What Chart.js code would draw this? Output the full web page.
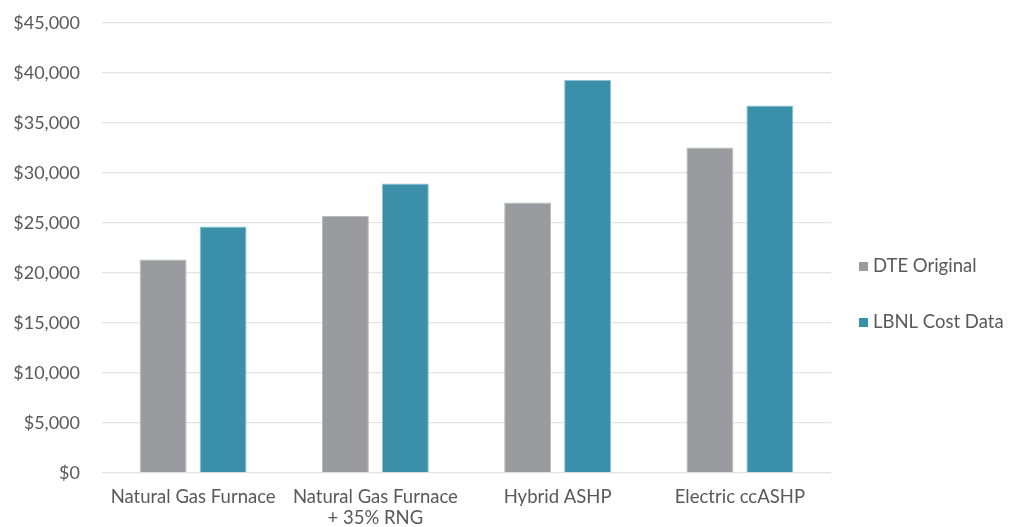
<!DOCTYPE html>
<html>
<head>
<meta charset="utf-8">
<script src="https://cdn.jsdelivr.net/npm/chart.js@4/dist/chart.umd.min.js"></script>
<style>
  html, body { margin: 0; padding: 0; background: #ffffff; }
  #wrap { width: 1018px; height: 527px; }
</style>
</head>
<body>
<div id="wrap"><canvas id="c" width="1018" height="527"></canvas></div>
<script>
// Heating system cost comparison: original utility estimates vs. LBNL cost data
const categories = [
  'Natural Gas Furnace',
  ['Natural Gas Furnace', '+ 35% RNG'],
  'Hybrid ASHP',
  'Electric ccASHP'
];
const seriesNames = ['DTE Original', 'LBNL Cost Data'];
const dteOriginal = [21350, 25700, 27050, 32550];
const lbnlCostData = [24650, 28950, 39300, 36750];
const yTicks = [0, 5000, 10000, 15000, 20000, 25000, 30000, 35000, 40000, 45000];

const GRAY = '#9a9b9f';
const TEAL = '#3a90a8';
const TEXT = '#595959';
const FONT = 'Lato, "Open Sans", sans-serif';

// Legend drawn at the right of the plot area
const sideLegend = {
  id: 'sideLegend',
  afterDraw(chart) {
    const ctx = chart.ctx;
    const items = chart.data.datasets.map(d => ({ label: d.label, color: d.backgroundColor }));
    const x = 859, ys = [266, 322];
    ctx.save();
    ctx.font = '18.5px ' + FONT;
    ctx.textBaseline = 'middle';
    ctx.textAlign = 'left';
    items.forEach((it, i) => {
      ctx.fillStyle = it.color;
      ctx.fillRect(x, ys[i] - 4, 9, 9);
      ctx.fillStyle = TEXT;
      ctx.fillText(it.label, x + 14, ys[i]);
    });
    ctx.restore();
  }
};

new Chart(document.getElementById('c'), {
  type: 'bar',
  data: {
    labels: categories,
    datasets: [
      { label: seriesNames[0], data: dteOriginal, backgroundColor: GRAY, borderColor: '#b9babd', borderWidth: 1 },
      { label: seriesNames[1], data: lbnlCostData, backgroundColor: TEAL, borderColor: '#8fc3d2', borderWidth: 1 }
    ]
  },
  options: {
    responsive: false,
    animation: false,
    layout: { padding: { top: 23, right: 187, left: 0, bottom: 0 } },
    datasets: {
      bar: { categoryPercentage: 0.658, barPercentage: 0.783 }
    },
    plugins: {
      legend: { display: false },
      tooltip: { enabled: false }
    },
    scales: {
      x: {
        grid: { display: false, drawTicks: false },
        border: { display: false },
        ticks: {
          color: TEXT,
          font: { family: FONT, size: 18.5, lineHeight: 1.15 },
          padding: 13,
          maxRotation: 0,
          autoSkip: false
        },
        afterFit(scale) { scale.height = 54; }
      },
      y: {
        min: 0,
        max: 45000,
        afterBuildTicks(scale) { scale.ticks = yTicks.map(v => ({ value: v })); },
        grid: { color: '#e4e4e4', lineWidth: 1.3, drawTicks: false },
        border: { display: false },
        ticks: {
          color: TEXT,
          font: { family: FONT, size: 18 },
          padding: 22,
          callback: v => '$' + v.toLocaleString('en-US')
        },
        afterFit(scale) {
          scale.width = 102;
          scale.paddingTop = 0;
          scale.paddingBottom = 0;
        }
      }
    }
  },
  plugins: [sideLegend]
});
</script>
</body>
</html>
